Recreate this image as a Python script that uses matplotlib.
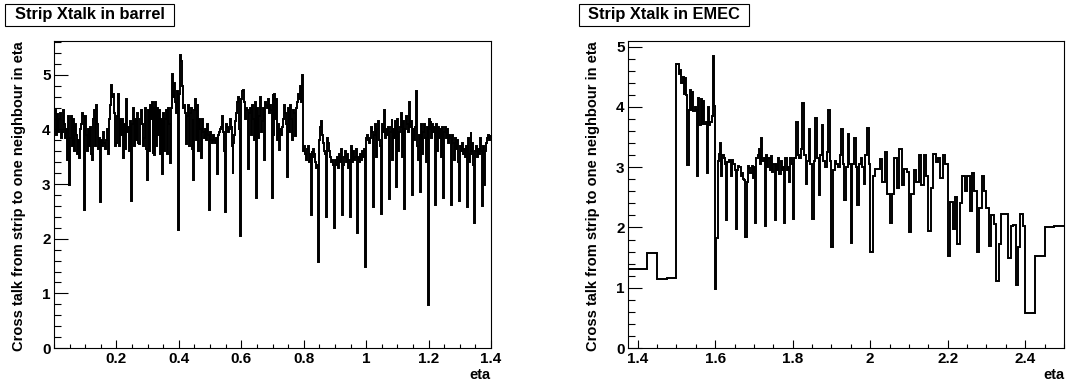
import numpy as np
import matplotlib
matplotlib.use('Agg')
import matplotlib.pyplot as plt
from matplotlib.ticker import MultipleLocator, FixedLocator
from matplotlib.patches import Rectangle

plt.rcParams['font.family'] = ['Liberation Sans', 'DejaVu Sans']
plt.rcParams['font.weight'] = 'bold'

# barrel strips, 0 < eta < 1.4, 8 strips per 0.025 cell
barrel_xtalk = [
    4.30, 4.35, 3.90, 4.28, 3.95, 4.20, 4.30, 3.85,
    3.95, 4.35, 4.10, 3.85, 4.00, 3.45, 4.25, 2.98,
    3.85, 4.25, 3.70, 4.20, 4.05, 3.60, 4.10, 3.90,
    3.56, 3.80, 3.47, 4.00, 4.10, 4.30, 4.25, 2.52,
    4.25, 3.90, 3.60, 4.00, 3.70, 4.05, 3.55, 3.45,
    4.20, 4.35, 3.70, 4.45, 4.10, 3.65, 3.85, 2.68,
    3.80, 3.70, 3.95, 3.75, 3.65, 3.80, 4.00, 3.56,
    4.20, 4.45, 4.82, 4.60, 4.65, 4.45, 4.30, 3.70,
    3.75, 4.25, 4.65, 3.70, 4.20, 3.90, 4.20, 3.47,
    4.10, 3.65, 4.55, 3.95, 4.05, 3.60, 4.15, 2.70,
    4.10, 4.40, 3.70, 4.20, 3.80, 4.30, 3.75, 3.74,
    4.20, 4.35, 4.10, 3.70, 3.85, 4.40, 3.65, 3.07,
    4.35, 3.60, 4.45, 4.20, 4.50, 3.55, 4.40, 3.53,
    4.50, 3.70, 4.40, 3.90, 4.35, 3.55, 4.20, 3.18,
    4.30, 3.60, 4.20, 4.35, 3.55, 4.40, 4.10, 3.38,
    4.40, 5.02, 4.60, 4.85, 4.50, 4.30, 4.70, 2.16,
    4.65, 5.37, 5.25, 4.80, 4.40, 4.45, 4.30, 3.74,
    4.25, 4.45, 3.70, 4.30, 4.40, 3.65, 4.20, 3.07,
    4.35, 4.55, 3.80, 4.45, 3.60, 4.20, 4.00, 3.47,
    4.20, 3.95, 3.85, 4.00, 3.80, 4.10, 3.90, 2.52,
    3.95, 3.80, 3.75, 3.90, 3.80, 3.75, 3.85, 3.19,
    3.90, 3.95, 4.00, 4.05, 4.25, 3.95, 3.60, 2.49,
    4.10, 4.05, 3.95, 4.00, 4.20, 4.05, 3.70, 3.19,
    3.75, 3.90, 4.15, 4.30, 4.50, 4.60, 4.00, 2.05,
    4.55, 4.70, 4.72, 4.50, 4.20, 4.40, 4.35, 3.28,
    4.30, 4.40, 3.90, 4.45, 4.20, 3.80, 4.50, 2.74,
    4.40, 3.85, 4.25, 4.60, 3.95, 4.15, 4.40, 3.44,
    4.50, 4.45, 4.40, 4.55, 4.30, 4.45, 4.35, 2.74,
    4.65, 3.90, 4.65, 4.20, 4.55, 3.80, 4.10, 3.62,
    4.00, 3.90, 4.05, 4.20, 4.45, 4.30, 4.10, 3.13,
    4.40, 3.95, 4.45, 4.20, 3.80, 4.35, 4.30, 3.89,
    4.40, 4.50, 4.65, 4.55, 4.80, 4.50, 5.00, 3.60,
    3.70, 3.55, 3.45, 3.65, 3.70, 3.40, 3.55, 2.43,
    3.60, 3.50, 3.65, 3.55, 3.40, 3.30, 3.35, 1.58,
    3.80, 4.05, 4.15, 3.90, 3.75, 3.60, 3.55, 2.40,
    3.85, 3.75, 3.60, 3.50, 3.40, 3.45, 3.35, 2.19,
    3.45, 3.35, 3.50, 3.30, 3.55, 3.40, 3.65, 2.43,
    3.35, 3.50, 3.60, 3.40, 3.55, 3.30, 3.45, 2.40,
    3.70, 3.55, 3.40, 3.60, 3.45, 3.50, 3.65, 2.11,
    3.50, 3.40, 3.55, 3.45, 3.60, 3.50, 3.65, 1.49,
    3.85, 3.90, 3.80, 3.75, 3.85, 4.05, 3.95, 2.58,
    3.90, 4.10, 3.50, 4.00, 4.15, 3.80, 3.70, 2.46,
    4.10, 3.95, 4.35, 3.85, 4.00, 3.90, 4.05, 2.72,
    3.95, 4.05, 4.20, 3.45, 4.00, 3.85, 4.15, 2.95,
    4.20, 3.60, 3.95, 4.05, 4.30, 3.50, 4.15, 2.55,
    4.00, 4.25, 4.10, 3.95, 4.50, 4.05, 4.15, 2.80,
    4.00, 3.80, 4.05, 4.70, 3.70, 3.45, 3.90, 2.86,
    4.10, 3.55, 3.95, 4.10, 3.85, 3.40, 4.05, 0.79,
    4.20, 4.00, 4.15, 3.85, 4.10, 3.95, 4.05, 2.61,
    4.10, 3.60, 4.05, 3.85, 4.00, 3.50, 4.05, 2.74,
    3.95, 4.05, 3.85, 4.00, 3.75, 3.90, 3.85, 2.61,
    3.90, 3.75, 3.45, 3.85, 3.65, 3.80, 3.40, 2.70,
    3.70, 3.60, 3.75, 3.55, 3.65, 3.50, 3.70, 2.58,
    3.85, 3.40, 3.55, 3.95, 3.60, 3.75, 3.35, 2.29,
    3.60, 3.70, 3.50, 3.65, 3.55, 3.85, 3.60, 2.60,
    3.70, 2.98, 3.60, 3.75, 3.85, 3.90, 3.80, 3.88,
]

# EMEC strips: granularity changes with eta
emec_seg_bounds = [1.375, 1.425, 1.5, 1.8, 2.0, 2.4, 2.5]
emec_seg_nbins = [1, 3, 96, 48, 64, 4]

emec_xtalk = [
    1.31,
    1.57, 1.15, 1.16,
    # 1.5 - 1.6
    4.72, 4.72, 4.55, 4.62, 4.40, 4.50, 4.22, 4.48,
    4.20, 3.03, 3.95, 4.28, 3.95, 4.25, 3.93, 4.00,
    3.95, 2.85, 4.15, 3.70, 4.13, 3.72, 4.10, 3.72,
    3.75, 2.90, 4.00, 3.70, 3.75, 3.85, 4.85, 4.02,
    # 1.6 - 1.8
    0.98, 1.83, 3.10, 3.22, 3.40, 2.85, 3.20, 3.15,
    3.05, 2.12, 3.08, 3.12, 3.10, 2.85, 3.12, 3.05,
    2.95, 1.98, 2.95, 3.02, 3.00, 2.85, 2.90, 2.80,
    2.78, 1.85, 2.75, 3.02, 2.98, 2.90, 3.02, 2.82,
    3.00, 2.08, 3.15, 3.20, 3.30, 3.05, 3.48, 3.10,
    3.15, 2.03, 3.20, 3.00, 3.15, 2.95, 3.18, 2.92,
    3.05, 2.13, 3.05, 2.95, 3.15, 2.88, 3.10, 2.95,
    3.00, 2.08, 3.15, 2.95, 3.00, 2.75, 3.15, 3.05,
    # 1.8 - 2.0
    2.14, 3.15, 3.75, 3.20, 3.15, 3.30,
    4.06, 3.20, 2.73, 3.10, 3.64, 3.05,
    2.14, 3.10, 3.82, 3.15, 2.54, 3.20,
    3.70, 3.10, 3.00, 3.25, 3.95, 3.10,
    1.67, 2.95, 3.10, 3.05, 3.00, 3.20,
    3.63, 3.05, 2.45, 3.00, 3.55, 3.05,
    1.75, 3.05, 3.49, 3.00, 2.37, 3.05,
    3.15, 3.00, 2.73, 3.20, 3.65, 3.05,
    # 2.0 - 2.4
    1.59, 2.86, 2.97, 2.97, 3.13, 2.75, 3.25, 2.55,
    2.08, 2.55, 3.15, 2.65, 3.30, 2.70, 2.97, 2.92,
    1.93, 2.55, 2.95, 2.75, 3.20, 2.70, 3.20, 2.85,
    1.95, 2.65, 3.22, 3.08, 3.15, 2.82, 3.20, 3.05,
    1.52, 2.42, 1.98, 2.50, 1.73, 2.40, 2.85, 2.60,
    2.85, 2.27, 2.90, 2.60, 1.60, 2.32, 2.85, 2.60,
    2.32, 1.70, 2.20, 2.05, 1.12, 1.72, 2.23, 2.23,
    2.23, 1.50, 2.02, 2.04, 1.05, 1.68, 2.22, 2.02,
    # 2.4 - 2.5
    0.58, 1.53, 2.00, 2.02,
]

ylabel = 'Cross talk from strip to one neighbour in eta'

barrel_edges = np.linspace(0.0, 1.4, len(barrel_xtalk) + 1)
emec_edges = [emec_seg_bounds[0]]
for lo, hi, n in zip(emec_seg_bounds[:-1], emec_seg_bounds[1:], emec_seg_nbins):
    emec_edges.extend(np.linspace(lo, hi, n + 1)[1:])
emec_edges = np.array(emec_edges)

W, H = 1086, 385
fig = plt.figure(figsize=(W / 100, H / 100), dpi=100)


def make_panel(left_px, right_px, title, title_box, edges, values, xlim, ylim, xticks):
    top_px, bottom_px = 41, 348
    ax = fig.add_axes([left_px / W, 1 - bottom_px / H,
                       (right_px - left_px) / W, (bottom_px - top_px) / H])
    ax.stairs(values, edges, color='black', linewidth=1.4, baseline=None)
    ax.set_xlim(*xlim)
    ax.set_ylim(*ylim)
    ax.xaxis.set_major_locator(FixedLocator(xticks))
    ax.xaxis.set_minor_locator(MultipleLocator(0.05))
    ax.yaxis.set_major_locator(MultipleLocator(1))
    ax.yaxis.set_minor_locator(MultipleLocator(0.2))
    ax.set_xticklabels([f'{t:g}' for t in xticks])
    ax.tick_params(which='both', direction='in', top=False, right=False,
                   width=0.8, labelsize=11)
    ax.tick_params(axis='y', which='major', length=10, pad=2.5)
    ax.tick_params(axis='y', which='minor', length=5)
    ax.tick_params(axis='x', which='major', length=6, pad=3)
    ax.tick_params(axis='x', which='minor', length=3)
    for s in ax.spines.values():
        s.set_linewidth(0.8)

    # axis titles, ROOT style (aligned to the axis ends)
    fig.text((left_px - 35) / W, 1 - top_px / H, ylabel, rotation=90,
             ha='center', va='top', fontsize=10.5, fontweight='bold')
    fig.text(right_px / W, 1 - 375 / H, 'eta', ha='right', va='center',
             fontsize=10.5, fontweight='bold')

    # title box
    x0, x1, y0, y1 = title_box
    fig.patches.append(Rectangle((x0 / W, 1 - y1 / H), (x1 - x0) / W, (y1 - y0) / H,
                                 transform=fig.transFigure, facecolor='white',
                                 edgecolor='black', linewidth=0.8))
    fig.text((x0 + x1) / 2 / W, 1 - (y0 + y1) / 2 / H, title, ha='center',
             va='center', fontsize=11.8, fontweight='bold')
    return ax


make_panel(54, 491, 'Strip Xtalk in barrel', (5, 174, 4, 26),
           barrel_edges, barrel_xtalk, (0.0, 1.4), (0, 5.62),
           [0.2, 0.4, 0.6, 0.8, 1.0, 1.2, 1.4])
make_panel(628, 1064, 'Strip Xtalk in EMEC', (579, 749, 4, 26),
           emec_edges, emec_xtalk, (1.375, 2.5), (0, 5.095),
           [1.4, 1.6, 1.8, 2.0, 2.2, 2.4])

fig.savefig('out.png', dpi=100)
